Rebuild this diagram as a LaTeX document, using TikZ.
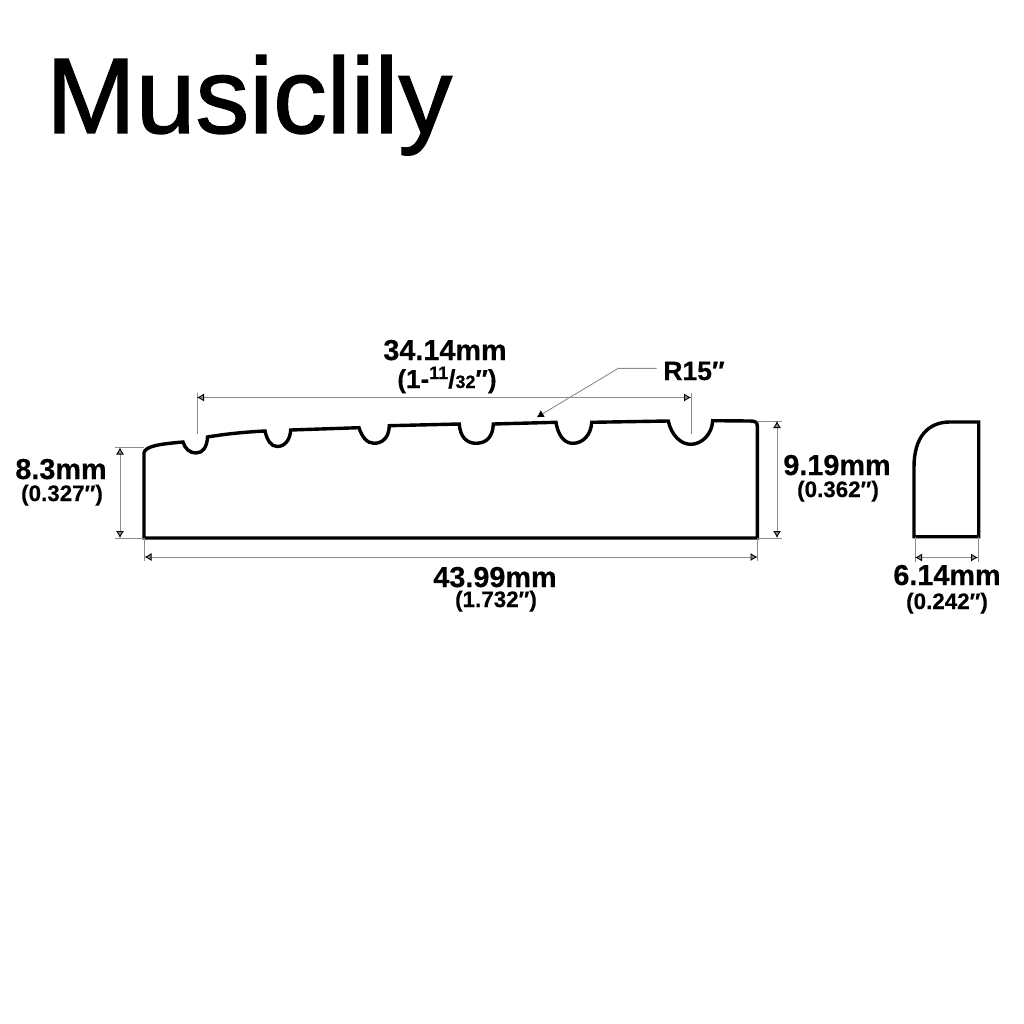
\documentclass[tikz,border=0pt]{standalone}
\usepackage{fontspec}
\setmainfont{Liberation Sans}
\newfontfamily\titlefont{Liberation Sans}[FakeBold=1.2]
\newfontfamily\labelfont{Liberation Sans}[BoldFeatures={FakeBold=0.4}]
\usetikzlibrary{arrows.meta}
\newcommand{\dq}{\char"2033}
\tikzset{
  part line/.style={line width=3.4pt,line join=miter,black},
  ext line/.style={line width=0.9pt,black!45},
  dim line/.style={line width=0.9pt,black!45,{Latex[black,length=7pt,width=8pt]}-{Latex[black,length=7pt,width=8pt]}},
  big label/.style={anchor=base,inner sep=0pt,font=\fontsize{28.8}{28.8}\labelfont\bfseries},
  small label/.style={anchor=base,inner sep=0pt,font=\fontsize{22.4}{22.4}\labelfont\bfseries}
}
\begin{document}
\begin{tikzpicture}[x=1pt,y=-1pt]
  \useasboundingbox (0,0) rectangle (1024,1024);

  \node[anchor=base west,inner sep=0pt,font=\fontsize{107.5}{107.5}\titlefont] (title) at (46,133) {Musiclily};

  % nut, front view
  \draw[part line] (144,538) -- (144,453)
    .. controls (145,446) and (160,444) .. (183,442)
    .. controls (185,449) and (190,453) .. (196,453)
    .. controls (203,453) and (207,447) .. (207.5,437)
    .. controls (225,434) and (245,432) .. (265,431)
    .. controls (267,440) and (271,446.5) .. (277,446.5)
    .. controls (285,446.5) and (290,440) .. (290.7,430)
    -- (359,427.7)
    .. controls (362,437) and (367,443.3) .. (374,443.3)
    .. controls (383,443.3) and (389,437) .. (389.3,425.7)
    -- (459.3,424)
    .. controls (460,436) and (466,443.3) .. (476,443.3)
    .. controls (487,443.3) and (493,436) .. (493.3,424)
    -- (556,422.3)
    .. controls (558,435) and (564,443.3) .. (572.7,443.3)
    .. controls (583,443.3) and (591,435) .. (591.7,422.3)
    -- (668.3,421)
    .. controls (671,434) and (680,444.3) .. (690.7,444.3)
    .. controls (702,444.3) and (712,434) .. (712.7,420.7)
    -- (750,421) .. controls (755,421) and (757.3,422) .. (757.3,426)
    -- (757.3,538) -- cycle;

  % nut, side view
  \draw[part line] (914,536.7) -- (914,467)
    .. controls (914,437) and (928,422) .. (950,422)
    -- (978.7,422) -- (978.7,536.7) -- cycle;

  \node[big label] (spanmm) at (445,360) {34.14mm};
  \node[big label,font=\fontsize{26}{26}\labelfont\bfseries] (spanin) at (447,388) {(1-\raisebox{9pt}{\fontsize{18}{18}\selectfont 11}/{\fontsize{18}{18}\selectfont 32}\dq)};
  \node[big label,font=\fontsize{26.5}{26.5}\labelfont\bfseries] (radius) at (694,380) {R15\dq};
  \node[big label] (leftmm) at (61,479) {8.3mm};
  \node[small label] (leftin) at (62,501) {(0.327\dq)};
  \node[big label] (rightmm) at (837,475) {9.19mm};
  \node[small label] (rightin) at (838,497) {(0.362\dq)};
  \node[big label] (lengthmm) at (495,587) {43.99mm};
  \node[small label] (lengthin) at (496,607) {(1.732\dq)};
  \node[big label] (depthmm) at (947,585) {6.14mm};
  \node[small label] (depthin) at (947,609) {(0.242\dq)};

  \coordinate (spanA) at (197,397.5);
  \coordinate (spanB) at (691,397.5);
  \coordinate (spanAe) at (197,434);
  \coordinate (spanBe) at (691,434);
  \coordinate (spanAt) at (197,393);
  \coordinate (spanBt) at (691,393);
  \coordinate (leftA) at (120,447.5);
  \coordinate (leftB) at (120,538);
  \coordinate (leftAe) at (115,447.5);
  \coordinate (leftBe) at (115,538);
  \coordinate (leftAs) at (144,447.5);
  \coordinate (leftBs) at (144,538);
  \coordinate (rightA) at (777,421);
  \coordinate (rightB) at (777,538);
  \coordinate (rightAe) at (782,421);
  \coordinate (rightBe) at (782,538);
  \coordinate (rightAs) at (757,421);
  \coordinate (rightBs) at (757,538);
  \coordinate (lengthA) at (144.5,557);
  \coordinate (lengthB) at (757.5,557);
  \coordinate (lengthAs) at (144.5,538);
  \coordinate (lengthBs) at (757.5,538);
  \coordinate (lengthAe) at (144.5,561);
  \coordinate (lengthBe) at (757.5,561);
  \coordinate (depthA) at (915,557.5);
  \coordinate (depthB) at (978,557.5);
  \coordinate (depthAs) at (915,537);
  \coordinate (depthBs) at (978,537);
  \coordinate (depthAe) at (915,562);
  \coordinate (depthBe) at (978,562);
  \coordinate (leaderA) at (656.7,368.3);
  \coordinate (leaderB) at (618.3,368.3);
  \coordinate (leaderC) at (536.7,417.3);

  \path[ext line]
   (spanAt) edge (spanAe)
   (spanBt) edge (spanBe)
   (leftAe) edge (leftAs)
   (leftBe) edge (leftBs)
   (rightAs) edge (rightAe)
   (rightBs) edge (rightBe)
   (lengthAs) edge (lengthAe)
   (lengthBs) edge (lengthBe)
   (depthAs) edge (depthAe)
   (depthBs) edge (depthBe);

  \path[dim line]
   (spanA) edge (spanB)
   (leftA) edge (leftB)
   (rightA) edge (rightB)
   (lengthA) edge (lengthB)
   (depthA) edge (depthB);

  \draw[line width=0.9pt,black!45,-{Latex[black,length=7pt,width=8pt]}] (leaderA) -- (leaderB) -- (leaderC);
\end{tikzpicture}
\end{document}
